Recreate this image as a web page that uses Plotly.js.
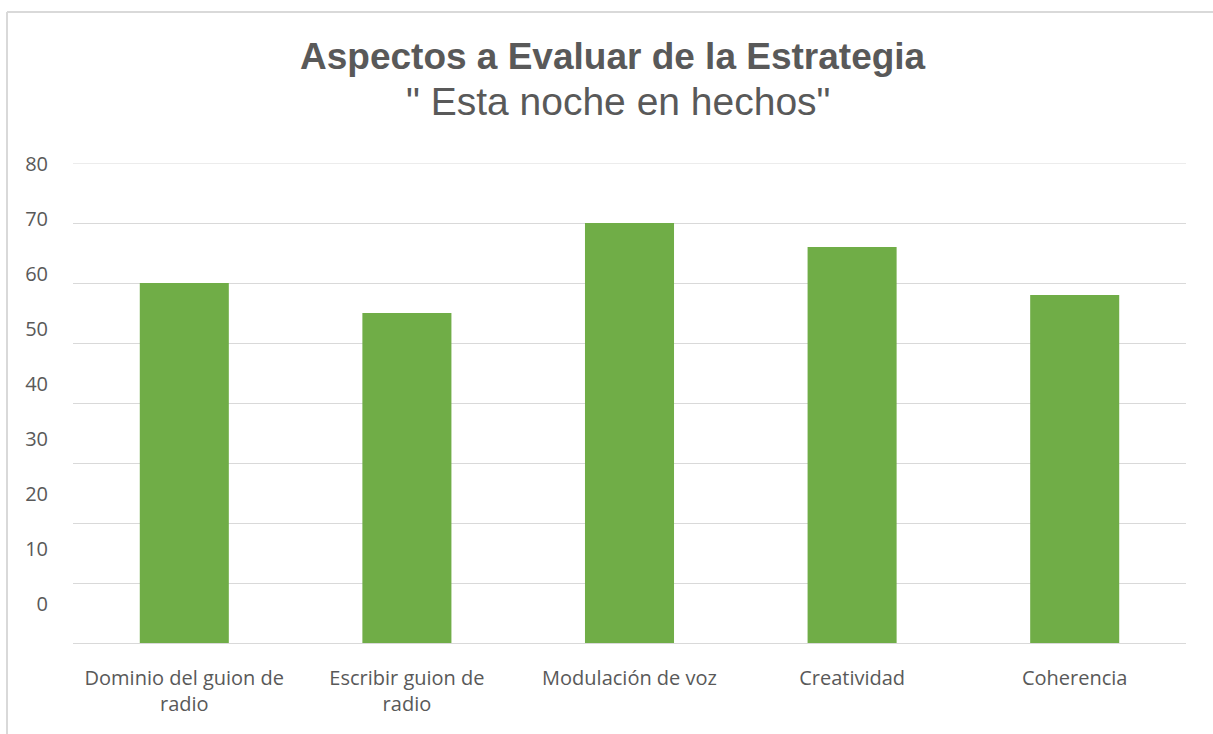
<!DOCTYPE html>
<html>
<head>
<meta charset="utf-8">
<script src="https://cdn.plot.ly/plotly-3.0.1.min.js"></script>
<style>html,body{margin:0;padding:0;background:#fff;}#chart{width:1213px;height:734px;}</style>
</head>
<body>
<div id="chart"></div>
<script>
const categories = ["Dominio del guion de radio", "Escribir guion de radio", "Modulación de voz", "Creatividad", "Coherencia"];
const categoryLabels = ["Dominio del guion de<br>radio", "Escribir guion de<br>radio", "Modulación de voz", "Creatividad", "Coherencia"];
const values = [60, 55, 70, 66, 58];
const yTickLabels = ["0", "10", "20", "30", "40", "50", "60", "70", "80"];
const titleText = "Aspectos a Evaluar de la Estrategia";
const subtitleText = "\" Esta noche en hechos\"";

// Label positions in the reference are evenly spaced but offset from gridlines
const labelLow = 6.5, labelHigh = 79.8;
const labelPos = yTickLabels.map((_, i) => labelLow + i * (labelHigh - labelLow) / (yTickLabels.length - 1));
const yMax = 80;

const L = 73, T = 163, W = 1113, H = 480;
const px = x => (x - L) / W;
const py = y => (T + H - y) / H;

const grey = '#595959';
const gridC = '#D9D9D9';

const data = [{
  type: 'bar',
  x: categories,
  y: values,
  marker: {color: '#70AD47'},
  hoverinfo: 'x+y'
}, {
  type: 'scatter', x: [categories[0]], y: [0], yaxis: 'y2', mode: 'markers',
  marker: {opacity: 0}, hoverinfo: 'skip', showlegend: false
}];

const layout = {
  width: 1213, height: 734,
  margin: {l: L, r: 1213 - L - W, t: T, b: 734 - T - H},
  paper_bgcolor: '#ffffff', plot_bgcolor: '#ffffff',
  showlegend: false,
  bargap: 0.6,
  font: {family: 'Open Sans, Lato, sans-serif', color: grey},
  xaxis: {
    tickmode: 'array', tickvals: categories, ticktext: categoryLabels,
    tickfont: {size: 20, color: grey, family: 'Open Sans, sans-serif'},
    showgrid: false, showline: false, zeroline: false, ticks: '',
    ticklabelstandoff: 21
  },
  yaxis: {
    range: [0, yMax], dtick: 10, showgrid: true, gridcolor: gridC, gridwidth: 1,
    zeroline: true, zerolinecolor: gridC, zerolinewidth: 1,
    showticklabels: false, ticks: '', showline: false, fixedrange: true
  },
  yaxis2: {
    overlaying: 'y', side: 'left', range: [0, yMax],
    tickmode: 'array', tickvals: labelPos, ticktext: yTickLabels,
    tickfont: {size: 20, color: grey, family: 'Open Sans, sans-serif'},
    showgrid: false, zeroline: false, showline: false, ticks: '',
    ticklabelstandoff: 24
  },
  annotations: [
    {text: '<b>' + titleText + '</b>', xref: 'paper', yref: 'paper', x: px(613), y: py(57),
     xanchor: 'center', yanchor: 'middle', showarrow: false,
     font: {family: 'Liberation Sans, Arial, sans-serif', size: 37, color: grey}},
    {text: subtitleText, xref: 'paper', yref: 'paper', x: px(618), y: py(101),
     xanchor: 'center', yanchor: 'middle', showarrow: false,
     font: {family: 'Liberation Sans, Arial, sans-serif', size: 39, color: grey}}
  ],
  shapes: [
    {type: 'line', xref: 'paper', yref: 'y', x0: 0, x1: 1, y0: yMax, y1: yMax, line: {color: gridC, width: 1}, layer: 'below'},
    {type: 'line', xref: 'paper', yref: 'paper', x0: px(7), x1: px(7), y0: py(12), y1: py(734), line: {color: gridC, width: 2}},
    {type: 'line', xref: 'paper', yref: 'paper', x0: px(7), x1: px(1213), y0: py(12), y1: py(12), line: {color: gridC, width: 2}}
  ]
};

Plotly.newPlot('chart', data, layout, {displayModeBar: false, staticPlot: true});
</script>
</body>
</html>
